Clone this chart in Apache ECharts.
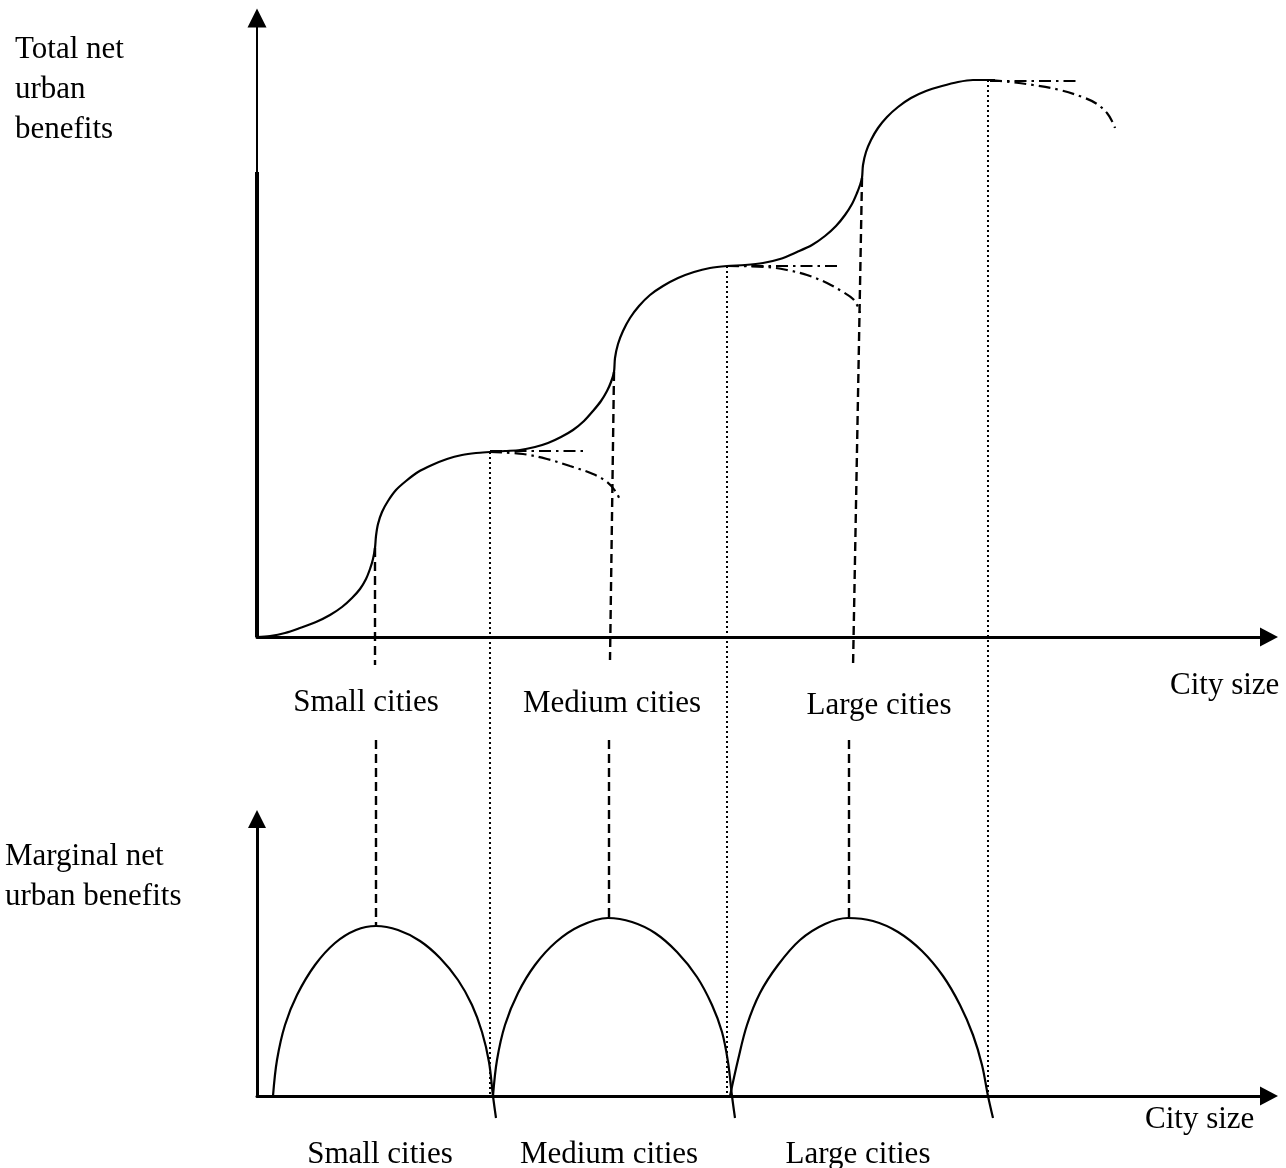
<!DOCTYPE html>
<html>
<head>
<meta charset="utf-8">
<script src="https://cdn.jsdelivr.net/npm/echarts@6/dist/echarts.min.js"></script>
<style>
  html, body { margin: 0; padding: 0; background: #fff; }
  #chart { width: 1286px; height: 1168px; }
</style>
</head>
<body>
<div id="chart"></div>
<script>
// ---------- DATA (arbitrary units) ----------
// Upper panel: total net urban benefits vs city size
const totalBenefitCurve = [
  [0,0],[1.3,0.1],[2.8,0.4],[4.3,0.9],[5.9,1.5],[7.3,2.2],[8.5,3.0],[9.5,3.9],[10.3,4.8],[10.9,5.8],[11.3,6.8],[11.6,7.8],[11.8,8.9],
  [11.9,10.1],[12.1,11.3],[12.5,12.5],[13.1,13.6],[13.9,14.7],[14.9,15.6],[16.1,16.5],[17.5,17.2],[19.0,17.8],[20.5,18.2],[21.9,18.4],[23.3,18.5],
  [24.8,18.6],[26.3,18.7],[27.8,19.0],[29.1,19.4],[30.4,20.0],[31.6,20.7],[32.7,21.6],[33.6,22.6],[34.4,23.6],[35.0,24.6],[35.4,25.5],[35.7,26.5],
  [35.8,27.9],[36.1,29.3],[36.6,30.6],[37.3,31.9],[38.2,33.1],[39.3,34.2],[40.6,35.1],[42.1,35.9],[43.7,36.5],[45.3,36.9],[47.0,37.1],
  [48.8,37.2],[50.6,37.4],[52.3,37.8],[54.0,38.5],[55.5,39.2],[56.8,40.1],[57.9,41.1],[58.8,42.2],[59.5,43.3],[60.0,44.4],[60.3,45.2],[60.5,45.9],
  [60.6,47.2],[60.9,48.5],[61.4,49.7],[62.1,50.9],[63.0,52.0],[64.1,53.0],[65.4,53.9],[66.9,54.6],[68.5,55.1],[70.1,55.5],[71.6,55.7],[73.1,55.7],[73.8,55.7]
];
// flat continuations (dash-dot) after each optimum
const plateauStartX = [23.3, 47.0, 73.3];
const plateauEndX   = [32.8, 58.0, 82.3];
const plateauY      = [18.6, 37.1, 55.6];
// declining continuations (dash-dot)
const declineSmall  = [[23.3,18.5],[26.6,18.3],[29.0,17.8],[31.3,17.1],[33.6,16.3],[35.0,15.5],[35.9,14.5],[36.3,13.7]];
const declineMedium = [[47.0,37.1],[51.0,37.0],[53.0,36.7],[55.0,36.2],[57.0,35.4],[58.6,34.5],[59.6,33.8],[60.1,33.0],[60.3,32.4]];
const declineLarge  = [[73.3,55.7],[75.3,55.5],[77.6,55.2],[80.3,54.7],[82.8,53.9],[84.0,53.3],[85.0,52.4],[85.6,51.4],[85.8,50.9]];
// dashed verticals at inflection points (upper panel units)
const inflectionDashUpper = [
  [[11.8,8.9],[11.8,-2.8]],
  [[35.7,26.5],[35.3,-2.3]],
  [[60.5,45.9],[59.6,-3.1]]
];
// dashed verticals to marginal peaks (lower panel units)
const inflectionDashLower = [
  [[11.9,35.6],[11.9,17.0]],
  [[35.2,35.6],[35.2,17.8]],
  [[59.2,35.6],[59.2,17.8]]
];
// dotted boundaries (upper panel units, running down to the lower axis)
const boundaryX       = [23.3, 47.0, 73.1];
const boundaryTopY    = [18.5, 37.1, 55.7];
const boundaryBottomY = -45.9;
// thick part of the upper vertical axis
const upperAxisThick = [[0,0],[0,46.5]];

// Lower panel: marginal net urban benefits
const marginalSmall  = [[1.6,0],[2.0,3.6],[2.8,7.1],[4.0,10.1],[5.8,13.1],[7.8,15.3],[9.9,16.6],[11.9,17.0],[14.1,16.6],[16.3,15.5],[18.3,13.8],[20.1,11.6],[21.5,9.1],[22.5,6.4],[23.2,3.4],[23.6,0],[23.9,-2.2]];
const marginalMedium = [[23.6,0],[24.0,3.6],[24.8,7.1],[26.1,10.3],[27.8,13.1],[29.9,15.4],[32.3,17.0],[35.1,17.8],[37.5,17.4],[39.8,16.3],[42.0,14.4],[44.0,11.9],[45.5,9.1],[46.5,6.4],[47.1,3.4],[47.5,0],[47.8,-2.2]];
const marginalLarge  = [[47.3,0],[48.1,3.6],[49.0,7.1],[50.3,10.3],[52.1,13.1],[54.3,15.6],[56.8,17.2],[59.1,17.8],[61.6,17.5],[64.1,16.4],[66.5,14.5],[68.6,12.0],[70.3,9.1],[71.6,6.1],[72.5,3.1],[73.1,0],[73.6,-2.2]];

// Category labels
const cityTypes    = ['Small cities', 'Medium cities', 'Large cities'];
const upperLabelX  = [10.9, 35.5, 62.2];
const upperLabelY  = [-6.6, -6.7, -6.9];
const lowerLabelX  = [12.3, 35.2, 60.1];
const lowerLabelY  = [-5.9, -5.9, -5.9];

// ---------- CHART ----------
const FONT = '"Liberation Serif", "Times New Roman", serif';
const chart = echarts.init(document.getElementById('chart'), null, { renderer: 'canvas' });

function line(data, extra) {
  const base = {
    type: 'line', data: data, symbol: 'none', showSymbol: false, clip: false, silent: true,
    xAxisIndex: 0, yAxisIndex: 0, z: 3,
    lineStyle: { color: '#000', width: 2.2 }
  };
  const s = Object.assign(base, extra || {});
  if (extra && extra.lineStyle) s.lineStyle = Object.assign({ color: '#000', width: 2.2 }, extra.lineStyle);
  return s;
}
const DASHDOT = { width: 2.2, type: [12, 5, 2.5, 5] };
const DASHED  = { width: 2.4, type: [9, 5] };
const DOTTED  = { width: 2, type: [2, 3] };

const series = [];
series.push(line(upperAxisThick, { lineStyle: { width: 4 }, z: 5 }));
series.push(line(totalBenefitCurve, { smooth: 0.3 }));
plateauStartX.forEach((x0, i) => {
  series.push(line([[x0, plateauY[i]], [plateauEndX[i], plateauY[i]]], { lineStyle: DASHDOT }));
});
[declineSmall, declineMedium, declineLarge].forEach(d => {
  series.push(line(d, { smooth: 0.35, lineStyle: DASHDOT }));
});
inflectionDashUpper.forEach(d => series.push(line(d, { lineStyle: DASHED })));
inflectionDashLower.forEach(d => series.push(line(d, { xAxisIndex: 1, yAxisIndex: 1, lineStyle: DASHED })));
boundaryX.forEach((x, i) => {
  series.push(line([[x, boundaryTopY[i]], [x, boundaryBottomY]], { lineStyle: DOTTED, z: 2 }));
});
[marginalSmall, marginalMedium, marginalLarge].forEach(d => {
  series.push(line(d, { xAxisIndex: 1, yAxisIndex: 1, smooth: 0.35 }));
});
function labelSeries(xs, ys, xi, yi) {
  return {
    type: 'scatter', xAxisIndex: xi, yAxisIndex: yi, symbolSize: 0, clip: false, silent: true,
    itemStyle: { color: '#000', opacity: 1 },
    data: cityTypes.map((n, i) => ({ name: n, value: [xs[i], ys[i]] })),
    label: { show: true, position: 'inside', formatter: '{b}', color: '#000', opacity: 1, fontFamily: FONT, fontSize: 31,
             textBorderWidth: 0, textBorderColor: 'transparent', textShadowBlur: 0 }
  };
}
series.push(labelSeries(upperLabelX, upperLabelY, 0, 0));
series.push(labelSeries(lowerLabelX, lowerLabelY, 1, 1));

function xAx(gi) {
  return {
    gridIndex: gi, type: 'value', min: 0, max: 101.2,
    axisLine: { show: true, onZero: false, symbol: ['none', 'triangle'], symbolSize: [19, 18], lineStyle: { color: '#000', width: 3 } },
    axisTick: { show: false }, axisLabel: { show: false }, splitLine: { show: false }
  };
}
function yAx(gi, max, w, sz) {
  return {
    gridIndex: gi, type: 'value', min: 0, max: max,
    axisLine: { show: true, onZero: false, symbol: ['none', 'triangle'], symbolSize: sz, lineStyle: { color: '#000', width: w } },
    axisTick: { show: false }, axisLabel: { show: false }, splitLine: { show: false }
  };
}

const textStyle = (t) => ({ text: t, fontFamily: FONT, fontSize: 31, lineHeight: 40, fill: '#000' });

chart.setOption({
  animation: false,
  backgroundColor: '#fff',
  grid: [
    { left: 257, top: 18, width: 1012, height: 619 },
    { left: 257, top: 819, width: 1012, height: 277 }
  ],
  xAxis: [xAx(0), xAx(1)],
  yAxis: [yAx(0, 61.9, 2, [19, 19]), yAx(1, 27.7, 3, [18, 18])],
  graphic: [
    { type: 'text', left: 15, top: 30, style: textStyle('Total net\nurban\nbenefits') },
    { type: 'text', left: 5, top: 837, style: textStyle('Marginal net\nurban benefits') },
    { type: 'text', left: 1170, top: 666, style: textStyle('City size') },
    { type: 'text', left: 1145, top: 1100, style: textStyle('City size') }
  ],
  series: series
});
</script>
</body>
</html>
